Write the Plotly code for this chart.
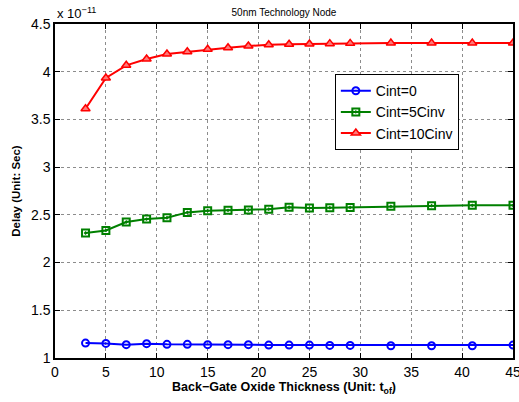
import plotly.graph_objects as go

thickness = [3, 5, 7, 9, 11, 13, 15, 17, 19, 21, 23, 25, 27, 29, 33, 37, 41, 45]
delay_cint0 = [1.156, 1.153, 1.140, 1.150, 1.143, 1.143, 1.140, 1.140, 1.140, 1.135,
               1.135, 1.135, 1.132, 1.132, 1.128, 1.128, 1.128, 1.135]
delay_cint5 = [2.31, 2.337, 2.425, 2.456, 2.47, 2.526, 2.543, 2.547, 2.55, 2.56,
               2.58, 2.571, 2.575, 2.578, 2.589, 2.596, 2.60, 2.60]
delay_cint10 = [3.612, 3.934, 4.067, 4.133, 4.186, 4.21, 4.235, 4.252, 4.269, 4.283,
                4.287, 4.29, 4.294, 4.297, 4.30, 4.30, 4.30, 4.30]
x_ticks = [0, 5, 10, 15, 20, 25, 30, 35, 40, 45]
y_ticks = [1, 1.5, 2, 2.5, 3, 3.5, 4, 4.5]
y_ticklabels = ["1", "1.5", "2", "2.5", "3", "3.5", "4", "4.5"]

FONT = "Liberation Sans, Arial, sans-serif"

fig = go.Figure()
fig.add_trace(go.Scatter(
    x=thickness, y=delay_cint0, mode="lines+markers", name="Cint=0",
    line=dict(color="rgb(0,0,255)", width=2),
    marker=dict(symbol="circle-open", size=7, color="rgb(0,0,255)", line=dict(width=2)),
))
fig.add_trace(go.Scatter(
    x=thickness, y=delay_cint5, mode="lines+markers", name="Cint=5Cinv",
    line=dict(color="rgb(0,128,0)", width=2),
    marker=dict(symbol="square-open-dot", size=7, color="rgb(0,128,0)",
                line=dict(width=2, color="rgb(0,128,0)")),
))
fig.add_trace(go.Scatter(
    x=thickness, y=delay_cint10, mode="lines+markers", name="Cint=10Cinv",
    line=dict(color="rgb(255,0,0)", width=2),
    marker=dict(symbol="triangle-up", size=8, color="rgb(255,120,120)",
                line=dict(width=1.5, color="rgb(255,0,0)")),
))

fig.update_layout(
    width=519, height=402,
    margin=dict(l=55, r=6, t=24, b=44, autoexpand=False),
    paper_bgcolor="white", plot_bgcolor="white",
    font=dict(family=FONT, size=14, color="black"),
    title=dict(text="50nm Technology Node", x=(55 + 513) / 2 / 519, xanchor="center",
               y=1 - 12 / 402, yanchor="middle", font=dict(size=10, family=FONT)),
    showlegend=True,
    legend=dict(x=0.611, y=0.85, xanchor="left", yanchor="top",
                bgcolor="white", bordercolor="black", borderwidth=1,
                font=dict(size=14, family=FONT), tracegroupgap=0,
                itemwidth=30),
    xaxis=dict(range=[0, 45], tickvals=x_ticks, ticks="inside", ticklen=5,
               tickcolor="black", showline=True, linecolor="black", linewidth=1.5,
               mirror="ticks", showgrid=True, gridcolor="rgb(140,140,140)",
               griddash="dot", gridwidth=1, zeroline=False, automargin=False,
               ticklabeloverflow="allow",
               tickfont=dict(size=14),
               title=dict(text="<b>Back\u2212Gate Oxide Thickness (Unit: t<sub>of</sub>)</b>",
                          font=dict(size=12.5), standoff=4)),
    yaxis=dict(range=[1, 4.5], tickvals=y_ticks, ticktext=y_ticklabels, ticks="inside",
               ticklen=5, tickcolor="black", showline=True, linecolor="black",
               linewidth=1.5, mirror="ticks", showgrid=True, automargin=False,
               ticklabeloverflow="allow",
               gridcolor="rgb(140,140,140)", griddash="dot", gridwidth=1,
               zeroline=False, tickfont=dict(size=14),
               title=dict(text="<b>Delay (Unit: Sec)</b>", font=dict(size=11.5), standoff=8)),
)

fig.add_annotation(text="x 10<sup>\u221211</sup>", xref="paper", yref="paper",
                   x=0, y=1, xanchor="left", yanchor="bottom", showarrow=False,
                   font=dict(size=13, family=FONT), yshift=1)

fig.write_html("out.html")
